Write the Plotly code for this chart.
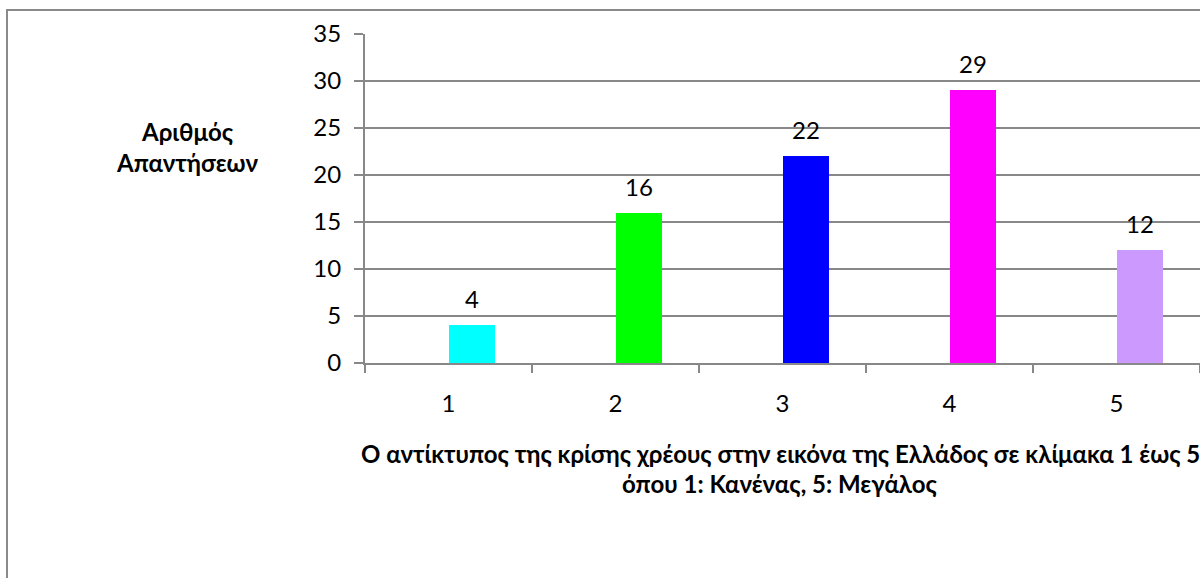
import plotly.graph_objects as go

categories = ["1", "2", "3", "4", "5"]
answers = [4, 16, 22, 29, 12]
bar_colors = ["#00FFFF", "#00FF00", "#0000FF", "#FF00FF", "#CC99FF"]
y_ticks = [0, 5, 10, 15, 20, 25, 30, 35]

x_title_1 = "Ο αντίκτυπος της κρίσης χρέους στην εικόνα της Ελλάδος σε κλίμακα 1 έως 5"
x_title_2 = "όπου 1: Κανένας, 5: Μεγάλος"
y_title = "Αριθμός<br>Απαντήσεων"

FONT = "Lato"
GRID = "#888888"
BAR_W = 0.28
TICK_SIZE = 24
TITLE_SIZE = 24

# plot area in page pixels (body margin is removed below)
L, R, T, B = 365, 1200, 34, 363
W, H = 1200, 578


def px_x(p):
    return (p - L) / (R - L)


def px_y(p):
    return (B - p) / (B - T)


fig = go.Figure()
fig.add_trace(
    go.Bar(
        x=categories,
        y=answers,
        marker_color=bar_colors,
        marker_line_width=0,
        width=BAR_W,
        offset=0,
        hoverinfo="x+y",
    )
)

# value labels above each bar
for i, v in enumerate(answers):
    fig.add_annotation(
        x=i + BAR_W / 2, y=v, xref="x", yref="y",
        text=str(v), showarrow=False, xanchor="center", yanchor="bottom", yshift=10,
        font=dict(family=FONT, size=TICK_SIZE, color="#000000"),
    )

title_font = dict(family=FONT, size=TITLE_SIZE, color="#000000")
fig.add_annotation(
    x=px_x(187), y=px_y(147), xref="paper", yref="paper", text="<b>" + y_title + "</b>",
    showarrow=False, align="center", xanchor="center", yanchor="middle", font=title_font,
)
fig.add_annotation(
    x=px_x(780), y=px_y(453), xref="paper", yref="paper", text="<b>" + x_title_1 + "</b>",
    showarrow=False, xanchor="center", yanchor="middle", font=title_font,
)
fig.add_annotation(
    x=px_x(780), y=px_y(484), xref="paper", yref="paper", text="<b>" + x_title_2 + "</b>",
    showarrow=False, xanchor="center", yanchor="middle", font=title_font,
)

# chart border
fig.add_shape(
    type="rect", xref="paper", yref="paper",
    x0=px_x(7), x1=px_x(1240), y0=px_y(640), y1=px_y(10),
    line=dict(color="#8a8a8a", width=2), fillcolor="rgba(0,0,0,0)", layer="below",
)

fig.update_layout(
    width=W,
    height=H,
    margin=dict(l=L, r=W - R, t=T, b=H - B),
    paper_bgcolor="white",
    plot_bgcolor="white",
    showlegend=False,
    bargap=0,
    font=dict(family=FONT, size=TICK_SIZE, color="#000000"),
    xaxis=dict(
        type="category",
        range=[-0.5, 4.5],
        showgrid=False,
        showline=True,
        linecolor=GRID,
        linewidth=2,
        ticks="outside",
        tickson="boundaries",
        ticklen=8,
        tickwidth=2,
        tickcolor=GRID,
        ticklabelstandoff=18,
    ),
    yaxis=dict(
        range=[0, 35],
        tickvals=y_ticks,
        showgrid=True,
        gridcolor=GRID,
        gridwidth=1.5,
        showline=True,
        linecolor=GRID,
        linewidth=2,
        ticks="outside",
        ticklen=9,
        tickwidth=1.5,
        tickcolor=GRID,
        ticklabelstandoff=8,
        zeroline=False,
    ),
)

fig.write_html(
    "out.html",
    config={"displayModeBar": False},
    post_script="document.body.style.margin='0px'; document.body.style.overflow='hidden';",
)
